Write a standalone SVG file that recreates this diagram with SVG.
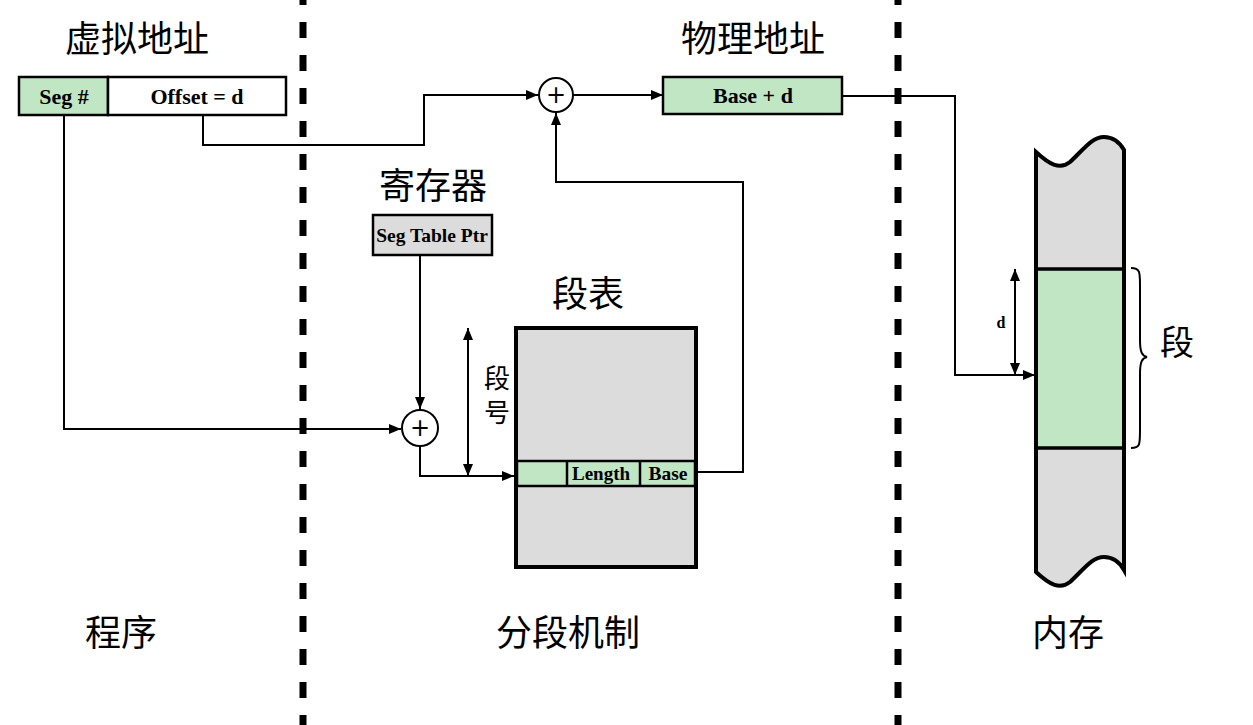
<svg xmlns="http://www.w3.org/2000/svg" width="1253" height="725" viewBox="0 0 1253 725">
<style>
.cjk{font-family:"Noto Sans CJK SC","Noto Sans",sans-serif;fill:#000}
.lbl{font-family:"Liberation Serif",serif;font-weight:bold;fill:#000}
.ln{fill:none;stroke:#000;stroke-width:2}
.box{stroke:#000;stroke-width:2.5}
.green{fill:#C0E6C4}
.gray{fill:#DCDCDC}
.dash{stroke:#000;stroke-width:7;stroke-dasharray:16 17}
</style>
<defs>
<marker id="ar" markerWidth="12" markerHeight="10" refX="12" refY="5" orient="auto-start-reverse" markerUnits="userSpaceOnUse">
<path d="M0,0 L12,5 L0,10 Z" fill="#000"/>
</marker>
</defs>
<rect width="1253" height="725" fill="#fff"/>
<line class="dash" x1="303" y1="-11" x2="303" y2="725"/>
<line class="dash" x1="898" y1="-11" x2="898" y2="725"/>

<g id="title-virtual"><text class="cjk" x="137" y="52" font-size="36" text-anchor="middle">虚拟地址</text></g>
<g id="title-physical"><text class="cjk" x="753" y="52" font-size="36" text-anchor="middle">物理地址</text></g>
<g id="title-register"><text class="cjk" x="433" y="199" font-size="36" text-anchor="middle">寄存器</text></g>
<g id="title-segtable"><text class="cjk" x="588" y="307" font-size="36" text-anchor="middle">段表</text></g>
<g id="label-program"><text class="cjk" x="121" y="646" font-size="36" text-anchor="middle">程序</text></g>
<g id="label-mechanism"><text class="cjk" x="568" y="646" font-size="36" text-anchor="middle">分段机制</text></g>
<g id="label-memory"><text class="cjk" x="1068" y="646" font-size="36" text-anchor="middle">内存</text></g>

<g id="virtual-address">
<rect class="box green" x="19" y="77" width="89" height="38"/>
<rect class="box" fill="#fff" x="108" y="77" width="178" height="38"/>
<text class="lbl" x="64" y="104" font-size="22" text-anchor="middle">Seg #</text>
<text class="lbl" x="197" y="104" font-size="22" text-anchor="middle">Offset = d</text>
</g>

<g id="adder-top">
<circle cx="556" cy="95" r="17" fill="#fff" stroke="#000" stroke-width="2"/>
<text x="556" y="103" font-family="'DejaVu Sans',sans-serif" font-size="24" text-anchor="middle">+</text>
</g>

<g id="physical-address">
<rect class="box green" x="663" y="77" width="179" height="37"/>
<text class="lbl" x="753" y="103" font-size="22" text-anchor="middle">Base + d</text>
</g>

<g id="seg-table-ptr">
<rect class="box gray" x="373" y="215" width="119" height="40"/>
<text class="lbl" x="432" y="242" font-size="19.5" text-anchor="middle">Seg Table Ptr</text>
</g>

<g id="adder-bottom">
<circle cx="420" cy="428" r="18" fill="#fff" stroke="#000" stroke-width="2"/>
<text x="420" y="436" font-family="'DejaVu Sans',sans-serif" font-size="24" text-anchor="middle">+</text>
</g>

<g id="segment-table">
<rect x="516" y="328" width="180" height="239" class="gray" stroke="#000" stroke-width="4"/>
<rect class="green" x="517" y="461" width="178" height="25" stroke="#000" stroke-width="2.5"/>
<line x1="567" y1="461" x2="567" y2="486" stroke="#000" stroke-width="2.5"/>
<line x1="640" y1="461" x2="640" y2="486" stroke="#000" stroke-width="2.5"/>
<line x1="516" y1="328" x2="516" y2="567" stroke="#000" stroke-width="4"/>
<line x1="696" y1="328" x2="696" y2="567" stroke="#000" stroke-width="4"/>
<text class="lbl" x="601" y="480" font-size="19" text-anchor="middle">Length</text>
<text class="lbl" x="668" y="480" font-size="19.5" text-anchor="middle">Base</text>
</g>

<g id="segment-number-label">
<text class="cjk" x="497" y="388" font-size="26" text-anchor="middle">段</text>
<text class="cjk" x="497" y="422" font-size="26" text-anchor="middle">号</text>
</g>

<g id="memory">
<path d="M1036,152 C1050,165 1060,170 1070,162 C1085,148 1092,137 1104,137 C1114,137 1120,143 1124,150 L1124,570 C1120,563 1114,557 1104,557 C1092,557 1085,568 1070,582 C1060,590 1050,585 1036,572 Z" class="gray" stroke="#000" stroke-width="4"/>
<rect class="green" x="1036" y="269" width="88" height="179" stroke="#000" stroke-width="3.5"/>
<path d="M1036,152 L1036,572 M1124,150 L1124,570" stroke="#000" stroke-width="4" fill="none"/>
</g>

<g id="brace">
<path d="M1131,268 C1140,268 1140,272 1140,285 L1140,340 C1140,352 1142,356 1147,357 C1142,358 1140,362 1140,374 L1140,430 C1140,445 1140,448 1131,448" class="ln" stroke-width="1.5"/>
<text class="cjk" x="1177" y="355" font-size="34" text-anchor="middle">段</text>
</g>

<g id="d-label">
<text class="lbl" x="1001" y="328" font-size="16" text-anchor="middle">d</text>
</g>

<g id="connectors">
<path class="ln" d="M203,115 V145 H424 V95 H538" marker-end="url(#ar)"/>
<path class="ln" d="M573,95 H663" marker-end="url(#ar)"/>
<path class="ln" d="M842,96 H955 V375 H1035" marker-end="url(#ar)"/>
<path class="ln" d="M64,115 V429 H401" marker-end="url(#ar)"/>
<path class="ln" d="M420,255 V409" marker-end="url(#ar)"/>
<path class="ln" d="M420,446 V476 H514" marker-end="url(#ar)"/>
<path class="ln" d="M696,472 H743 V182 H556 V113" marker-end="url(#ar)"/>
<path class="ln" d="M468,328 V476" marker-start="url(#ar)" marker-end="url(#ar)"/>
<path class="ln" d="M1015,269 V375" marker-start="url(#ar)" marker-end="url(#ar)"/>
</g>
</svg>
